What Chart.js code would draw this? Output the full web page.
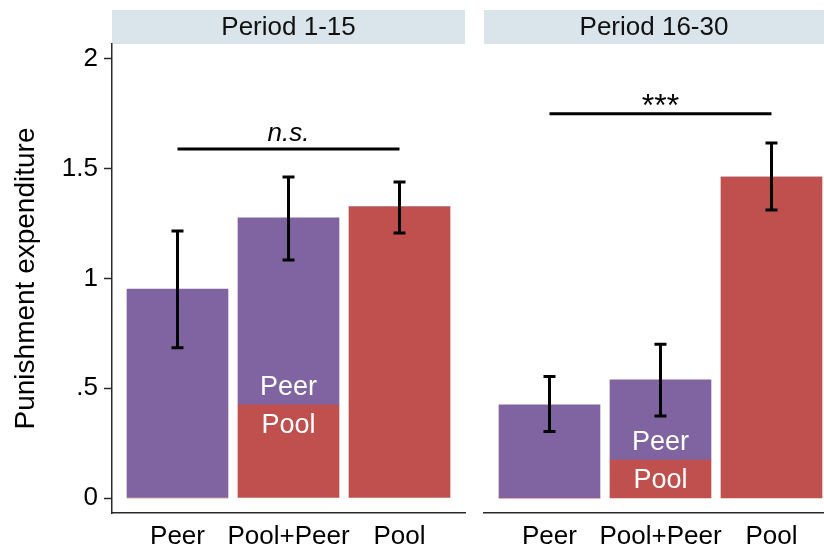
<!DOCTYPE html>
<html>
<head>
<meta charset="utf-8">
<script src="https://cdn.jsdelivr.net/npm/chart.js@4.4.1/dist/chart.umd.min.js"></script>
<style>
  html, body { margin: 0; padding: 0; background: #fff; }
  #wrap { position: relative; width: 824px; height: 546px; overflow: hidden; }
  canvas { position: absolute; top: 0; }
  #c1 { left: 0; }
  #c2 { left: 476px; }
</style>
</head>
<body>
<div id="wrap">
  <canvas id="c1" width="470" height="546"></canvas>
  <canvas id="c2" width="348" height="546"></canvas>
</div>
<script>
// Treatments on the x axis
const categories = ['Peer', 'Pool+Peer', 'Pool'];
const panelTitles = ['Period 1-15', 'Period 16-30'];
const yTicks = [0, 0.5, 1, 1.5, 2];
const yTickLabels = ['0', '.5', '1', '1.5', '2'];

// Period 1-15: mean punishment expenditure split by instrument
const poolEarly = [0, 0.424, 1.326];
const peerEarly = [0.952, 0.852, 0];
const ciLowEarly = [0.684, 1.084, 1.207];
const ciHighEarly = [1.216, 1.462, 1.440];

// Period 16-30
const poolLate = [0, 0.173, 1.462];
const peerLate = [0.424, 0.365, 0];
const ciLowLate = [0.303, 0.374, 1.312];
const ciHighLate = [0.553, 0.700, 1.617];

// Significance brackets: [from category, to category, height, label]
const sigEarly = [1, 3, 1.59, 'n.s.'];
const sigLate = [1, 3, 1.75, '***'];

const FONT = "'Liberation Sans', Arial, Helvetica, sans-serif";
const PURPLE = '#8064a2';
const RED = '#c0504d';
const STRIP = '#dae5eb';
const AXIS = '#2a2a2a';

function annotate(title, pool, peer, lo, hi, sig) {
  return {
    id: 'panelDecor',
    beforeDraw(chart) {
      const { ctx, chartArea } = chart;
      ctx.save();
      ctx.fillStyle = STRIP;
      ctx.fillRect(chartArea.left, 10, chartArea.right - chartArea.left, 34);
      ctx.fillStyle = '#111';
      ctx.font = '26px ' + FONT;
      ctx.textAlign = 'center';
      ctx.textBaseline = 'middle';
      ctx.fillText(title, (chartArea.left + chartArea.right) / 2, 28);
      ctx.restore();
    },
    afterDatasetsDraw(chart) {
      const { ctx } = chart;
      const xs = chart.scales.x, ys = chart.scales.y;
      ctx.save();
      // in-bar labels for the mixed treatment
      ctx.fillStyle = '#ffffff';
      ctx.font = '27px ' + FONT;
      ctx.textAlign = 'center';
      ctx.textBaseline = 'middle';
      const mixedX = xs.getPixelForValue(2);
      const poolTop = ys.getPixelForValue(pool[1]);
      ctx.fillText('Pool', mixedX, poolTop + 21);
      ctx.fillText('Peer', mixedX, poolTop - 17);
      // confidence intervals
      ctx.strokeStyle = '#000';
      ctx.lineWidth = 3;
      for (let i = 0; i < categories.length; i++) {
        const x = xs.getPixelForValue(i + 1);
        const y1 = ys.getPixelForValue(lo[i]);
        const y2 = ys.getPixelForValue(hi[i]);
        ctx.beginPath();
        ctx.moveTo(x, y1); ctx.lineTo(x, y2);
        ctx.moveTo(x - 6, y1); ctx.lineTo(x + 6, y1);
        ctx.moveTo(x - 6, y2); ctx.lineTo(x + 6, y2);
        ctx.stroke();
      }
      // significance bracket
      const sx1 = xs.getPixelForValue(sig[0]);
      const sx2 = xs.getPixelForValue(sig[1]);
      const sy = ys.getPixelForValue(sig[2]);
      ctx.beginPath();
      ctx.moveTo(sx1, sy); ctx.lineTo(sx2, sy);
      ctx.stroke();
      ctx.fillStyle = '#000';
      ctx.textBaseline = 'alphabetic';
      const stars = sig[3].startsWith('*');
      ctx.font = stars ? '32px ' + FONT : 'italic 26px ' + FONT;
      ctx.fillText(sig[3], (sx1 + sx2) / 2, stars ? sy + 2 : sy - 8);
      ctx.restore();
    }
  };
}

function makeConfig(idx, pool, peer, lo, hi, sig, xMax, showY) {
  const pts = arr => arr.map((v, i) => ({ x: i + 1, y: v }));
  return {
    type: 'bar',
    data: {
      datasets: [
        { label: 'Pool', data: pts(pool), backgroundColor: RED, barThickness: 101, stack: 's' },
        { label: 'Peer', data: pts(peer), backgroundColor: PURPLE, barThickness: 101, stack: 's' }
      ]
    },
    options: {
      responsive: false,
      animation: false,
      layout: { padding: { left: showY ? 0 : 8, right: showY ? 5 : 0, top: 44, bottom: 0 } },
      plugins: { legend: { display: false }, tooltip: { enabled: false } },
      scales: {
        x: {
          type: 'linear',
          stacked: true,
          offset: false,
          min: 0.41,
          max: xMax,
          afterBuildTicks: s => { s.ticks = categories.map((c, i) => ({ value: i + 1 })); },
          afterFit: s => { s.height = 33; },
          ticks: {
            callback: v => categories[v - 1] ?? '',
            color: '#000',
            font: { family: FONT, size: 26 },
            padding: 8,
            maxRotation: 0,
            autoSkip: false
          },
          grid: { display: false, drawTicks: false, offset: false },
          border: { display: true, color: AXIS, width: 1.5 }
        },
        y: {
          display: showY,
          stacked: true,
          min: -0.0683,
          max: 2.0683,
          afterBuildTicks: s => { s.ticks = yTicks.map(v => ({ value: v })); },
          afterFit: s => { s.width = showY ? 112 : 0; },
          ticks: {
            callback: v => yTickLabels[yTicks.indexOf(v)] ?? '',
            color: '#000',
            font: { family: FONT, size: 26 },
            padding: 6
          },
          grid: { display: true, drawOnChartArea: false, drawTicks: true, tickLength: 8, tickColor: AXIS, tickWidth: 1.5 },
          border: { display: true, color: AXIS, width: 1.5 },
          title: {
            display: true,
            text: 'Punishment expenditure',
            color: '#000',
            font: { family: FONT, size: 28 },
            padding: { top: 9, bottom: 10 }
          }
        }
      }
    },
    plugins: [annotate(panelTitles[idx], pool, peer, lo, hi, sig)]
  };
}

new Chart(document.getElementById('c1'),
  makeConfig(0, poolEarly, peerEarly, ciLowEarly, ciHighEarly, sigEarly, 3.59, true));
new Chart(document.getElementById('c2'),
  makeConfig(1, poolLate, peerLate, ciLowLate, ciHighLate, sigLate, 0.41 + 340 / 111, false));
</script>
</body>
</html>
